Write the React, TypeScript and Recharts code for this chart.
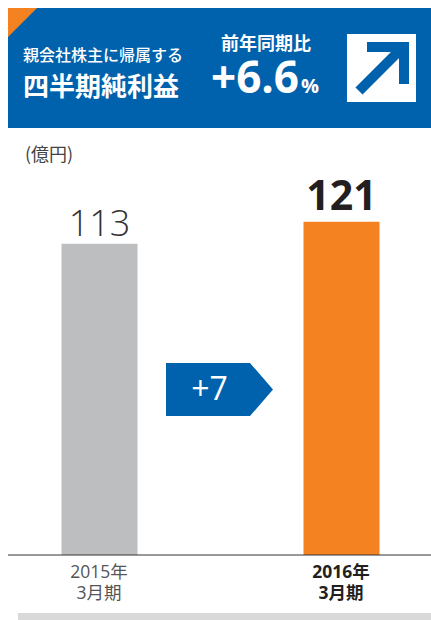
import React from 'react';
import { Bar, BarChart, Cell, LabelList, XAxis, YAxis } from 'recharts';

const periodYear = ['2015年', '', '2016年'];
const periodMonth = ['3月期', '', '3月期'];
const profit = [113, null, 121];
const barColors = ['#bcbec0', 'transparent', '#f58220'];
const highlightIndex = 2;

const changeLabel = '+7';
const yoyLabel = '前年同期比';
const yoyValue = '+6.6';
const titleLine1 = '親会社株主に帰属する';
const titleLine2 = '四半期純利益';
const unitLabel = '(億円)';

const BLUE = '#0062ad';
const FONT = "'Open Sans', 'Noto Sans CJK JP', sans-serif";
const CJK = "'Noto Sans CJK JP', 'Open Sans', sans-serif";

const data = periodYear.map((y, i) => ({
  name: y + periodMonth[i],
  value: profit[i]
}));

const PeriodTick = (props: any) => {
  const { x, y, index } = props;
  if (!periodYear[index]) return null;
  const strong = index === highlightIndex;
  const style = {
    fontFamily: FONT,
    fontSize: 17.5,
    fontWeight: strong ? 700 : 400,
    fill: strong ? '#231f20' : '#555'
  };
  return (
    <g>
      <text x={x} y={y + 23} textAnchor="middle" {...style}>{periodYear[index]}</text>
      <text x={x} y={y + 44} textAnchor="middle" {...style}>{periodMonth[index]}</text>
    </g>
  );
};

const ValueLabel = (props: any) => {
  const { x, y, width, value } = props;
  if (value == null) return null;
  // the latest period gets the big bold number
  const strong = value === profit[highlightIndex];
  return (
    <text x={x + width / 2} y={strong ? y - 12 : y - 8} textAnchor="middle" fontFamily={FONT}
      fontSize={strong ? 41 : 36} fontWeight={strong ? 700 : 300} fill={strong ? '#231f20' : '#333'}>
      {value}
    </text>
  );
};

export default function App() {
  return (
    <div style={{ position: 'absolute', left: 0, top: 0, width: 431, height: 620, background: '#fff', overflow: 'hidden' }}>
      <BarChart width={431} height={620} data={data} margin={{ top: 142, right: 0, bottom: 0, left: 8 }}>
        <XAxis dataKey="name" height={65} padding={{ left: 30.5, right: 29.5 }} tickLine={false} tickSize={0}
          tickMargin={0} axisLine={{ stroke: '#333', strokeWidth: 1 }} tick={<PeriodTick />} interval={0} />
        <YAxis hide width={0} domain={[0, 150]} />
        <Bar dataKey="value" barSize={76} isAnimationActive={false}>
          {data.map((d, i) => (
            <Cell key={d.name} fill={barColors[i]} />
          ))}
          <LabelList dataKey="value" content={<ValueLabel />} />
        </Bar>
      </BarChart>
      <svg width={431} height={620} style={{ position: 'absolute', left: 0, top: 0, pointerEvents: 'none' }}>
        <rect x={8} y={8} width={423} height={120} fill={BLUE} />
        <polygon points="8,8 37,8 8,37" fill="#f58220" />
        <text x={23} y={61} fontFamily={CJK} fontSize={16} fontWeight={500} fill="#fff">{titleLine1}</text>
        <text x={23} y={96} fontFamily={CJK} fontSize={26} fontWeight={700} fill="#fff">{titleLine2}</text>
        <text x={221} y={50} fontFamily={CJK} fontSize={18} fontWeight={700} fill="#fff">{yoyLabel}</text>
        <text x={211} y={93} fontFamily={FONT} fontSize={44} fontWeight={700} fill="#fff">
          {yoyValue}
          <tspan fontSize={20} dx={2}>%</tspan>
        </text>
        <rect x={347} y={34} width={69} height={68} fill="#fff" />
        <line x1={359} y1={91} x2={401} y2={49} stroke={BLUE} strokeWidth={10} />
        <polyline points="367,47 404,47 404,84" fill="none" stroke={BLUE} strokeWidth={10} strokeLinejoin="miter" />
        <text x={25} y={161} fontFamily={CJK} fontSize={18} fill="#444">{unitLabel}</text>
        <polygon points="166,363 250,363 273,389.5 250,416 166,416" fill={BLUE} />
        <text x={209.5} y={400} textAnchor="middle" fontFamily={FONT} fontSize={32} fill="#fff">{changeLabel}</text>
        <rect x={18} y={613} width={413} height={7} fill="#d9d9d9" />
      </svg>
    </div>
  );
}
